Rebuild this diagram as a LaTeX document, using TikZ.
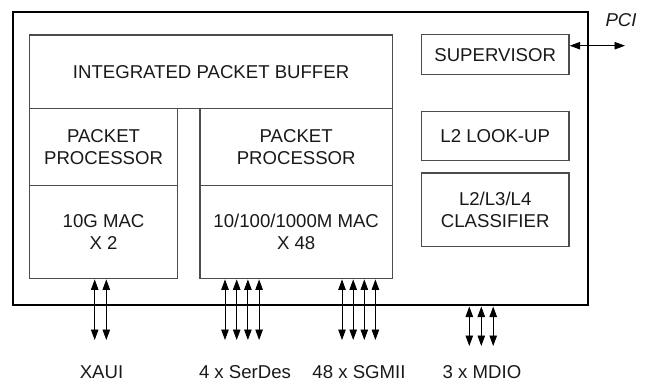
\documentclass[tikz,border=0pt]{standalone}
\usepackage{fontspec}
\setmainfont{Liberation Sans}
\usetikzlibrary{arrows.meta}
\begin{document}
\begin{tikzpicture}[x=1pt,y=-1pt,
  every node/.style={font=\fontsize{18.6}{22}\selectfont, text=black!90},
  blk/.style={draw=black!70, line width=1.4pt, inner sep=0pt, align=center, anchor=north west},
  bi/.style={{Triangle[length=10.5pt,width=7.5pt]}-{Triangle[length=10.5pt,width=7.5pt]}, line width=0.9pt},
  lbl/.style={anchor=base}]
\useasboundingbox (0,0) rectangle (647,381);
% outer chip
\node[draw=black, line width=2pt, inner sep=0pt, anchor=north west, minimum width=575pt, minimum height=293.5pt] (chip) at (11.5,10.5) {};
% blocks
\node[blk, minimum width=362.7pt, minimum height=73.7pt] (ipb) at (29,34.3) {INTEGRATED PACKET BUFFER};
\node[blk, minimum width=147.7pt, minimum height=76.5pt] (pp1) at (29,108) {PACKET\\PROCESSOR};
\node[blk, minimum width=147.7pt, minimum height=93.5pt] (mac1) at (29,184.5) {10G MAC\\X 2};
\node[blk, minimum width=192.4pt, minimum height=77pt] (pp2) at (199.3,108) {PACKET\\PROCESSOR};
\node[blk, minimum width=192.4pt, minimum height=93pt] (mac2) at (199.3,185) {10/100/1000M MAC\\X 48};
\node[blk, minimum width=147.6pt, minimum height=40pt] (sup) at (420.7,34) {SUPERVISOR};
\node[blk, minimum width=147.6pt, minimum height=49pt] (l2) at (420.7,111) {L2 LOOK-UP};
\node[blk, minimum width=147.6pt, minimum height=73.4pt] (cls) at (420.7,172.3) {L2/L3/L4\\CLASSIFIER};
% PCI
\coordinate (pcie) at (625,45.7);
\draw[bi] (sup.east |- pcie) -- (pcie);
\node[font=\fontsize{18.6}{22}\selectfont\itshape] (pci) at (621,20) {PCI};
% XAUI
\coordinate (xa1) at (94.7,340);
\coordinate (xa2) at (106.3,340);
\draw[bi] (xa1 |- mac1.south) -- (xa1);
\draw[bi] (xa2 |- mac1.south) -- (xa2);
% SerDes
\foreach \i/\x in {1/225,2/236.7,3/247.9,4/259.1}{
  \coordinate (sd\i) at (\x,340);
  \draw[bi] (sd\i |- mac2.south) -- (sd\i);
}
% SGMII
\foreach \i/\x in {1/342,2/353.2,3/364.3,4/375.4}{
  \coordinate (sg\i) at (\x,340);
  \draw[bi] (sg\i |- mac2.south) -- (sg\i);
}
% MDIO
\foreach \i/\x in {1/469.3,2/481.3,3/493.2}{
  \coordinate (md\i) at (\x,346);
  \coordinate (mt\i) at (\x,306.5);
  \draw[bi] (mt\i) -- (md\i);
}
% labels
\node[lbl] (lxaui) at (101.5,378) {XAUI};
\node[lbl] (lserdes) at (245,378) {4 x SerDes};
\node[lbl] (lsgmii) at (359,378) {48 x SGMII};
\node[lbl] (lmdio) at (482,378) {3 x MDIO};
\end{tikzpicture}
\end{document}
